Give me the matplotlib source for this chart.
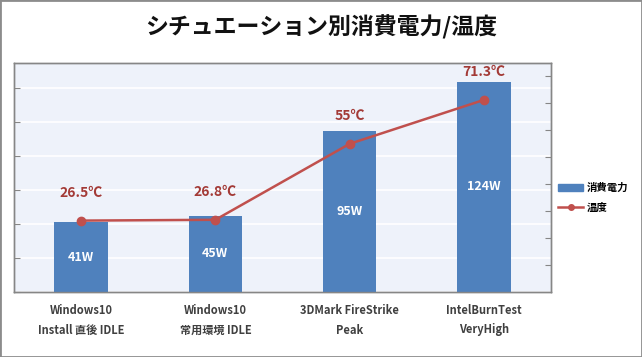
import matplotlib
matplotlib.use('Agg')
import matplotlib.pyplot as plt
from matplotlib.patches import Rectangle
from matplotlib.lines import Line2D

plt.rcParams['font.family'] = ['Noto Sans CJK JP', 'DejaVu Sans']

# Data
categories = ['Windows10\nInstall 直後 IDLE', 'Windows10\n常用環境 IDLE',
              '3DMark FireStrike\nPeak', 'IntelBurnTest\nVeryHigh']
power_w = [41, 45, 95, 124]
temp_c = [26.5, 26.8, 55, 71.3]
temp_labels = ['26.5℃', '26.8℃', '55℃', '71.3℃']
title = 'シチュエーション別消費電力/温度'

bar_color = '#4F81BD'
line_color = '#C0504D'
label_color = '#A33A36'
spine_color = '#868686'

fig = plt.figure(figsize=(6.42, 3.57), dpi=100)
ax = fig.add_axes([14 / 642, 1 - 292 / 357, 537 / 642, 229 / 357])
ax2 = ax.twinx()

x = list(range(len(categories)))

# Bars (power)
ax.set_facecolor('#EEF2FA')
ax.bar(x, power_w, width=0.4, color=bar_color, zorder=3)
for xi, p in zip(x, power_w):
    ax.text(xi, p / 2, f'{p}W', ha='center', va='center', color='white',
            fontsize=9, fontweight='bold', zorder=4)

ax.set_xlim(-0.5, len(categories) - 0.5)
ax.set_ylim(0, 135)
ax.set_yticks(range(0, 121, 20))
ax.yaxis.grid(True, color='white', linewidth=1.2, zorder=1)
ax.set_axisbelow(True)
ax.tick_params(axis='y', direction='in', length=4, color=spine_color,
               labelleft=False)
ax.set_xticks(x)
ax.set_xticklabels(categories, fontsize=8, fontweight='bold',
                   color='#404040', linespacing=1.6)
ax.tick_params(axis='x', length=0, pad=9)

# Line (temperature)
ax2.plot(x, temp_c, color=line_color, linewidth=1.8, marker='o',
         markersize=6, zorder=5)
for xi, t, lab in zip(x, temp_c, temp_labels):
    ax2.annotate(lab, (xi, t), xytext=(0, 15), textcoords='offset points',
                 ha='center', va='bottom', color=label_color,
                 fontsize=10, fontweight='bold')
ax2.set_ylim(0, 85)
ax2.set_yticks(range(10, 81, 10))
ax2.tick_params(axis='y', direction='in', length=4, color=spine_color,
                labelright=False)

for a in (ax, ax2):
    for s in a.spines.values():
        s.set_color(spine_color)
        s.set_linewidth(1.0)

fig.text(0.5, 1 - 27 / 357, title, ha='center', va='center',
         fontsize=16.5, fontweight='bold', color='#111111')

# Legend
handles = [Rectangle((0, 0), 1, 1, color=bar_color),
           Line2D([], [], color=line_color, marker='o', markersize=4,
                  linewidth=1.8)]
fig.legend(handles, ['消費電力', '温度'], loc='center left',
           bbox_to_anchor=(549 / 642, 1 - 198 / 357), frameon=False,
           prop={'size': 7.5, 'weight': 'bold'}, handlelength=2.4,
           handletextpad=0.3, labelspacing=0.9)

# Outer frame
fig.patches.append(Rectangle((0, 0), 1, 1, transform=fig.transFigure,
                             fill=False, edgecolor='#8C8C8C', linewidth=2))

fig.savefig('out.png', dpi=100)
